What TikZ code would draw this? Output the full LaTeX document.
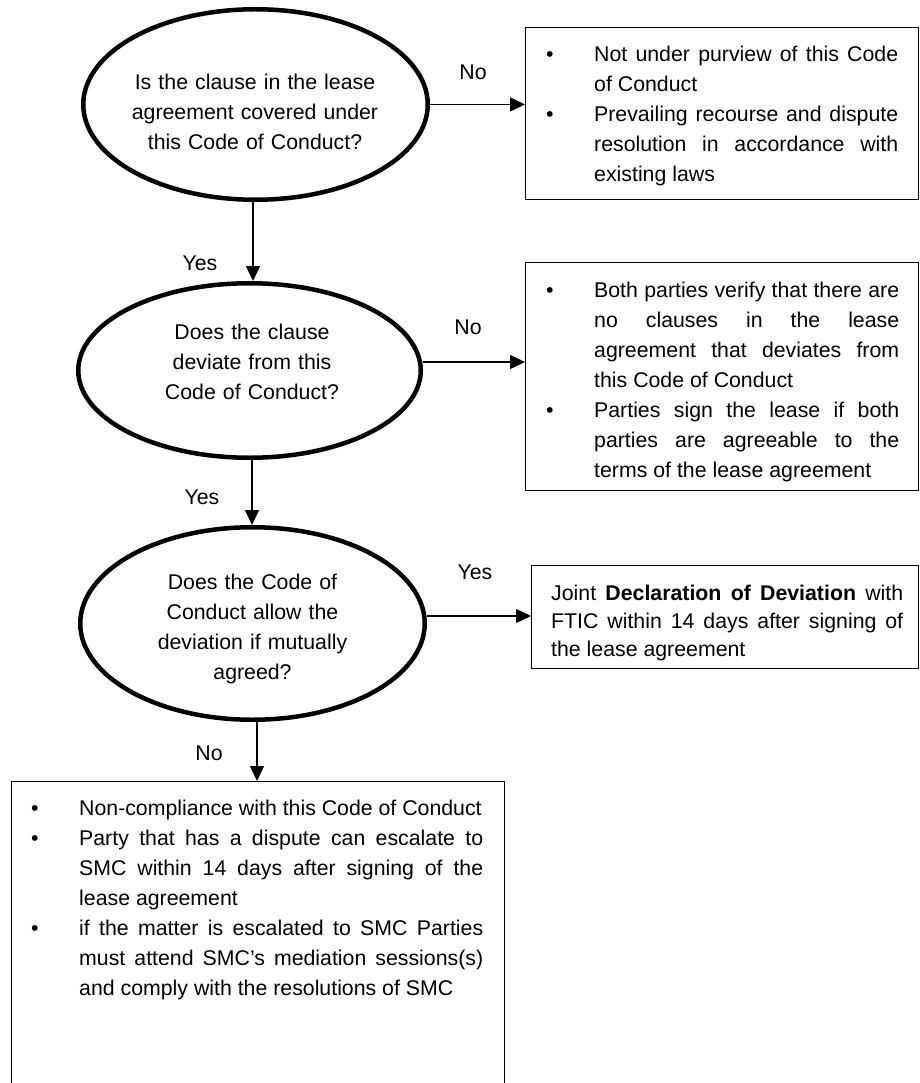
\documentclass[tikz,border=0pt]{standalone}
\usepackage{fontspec}
\setmainfont{Liberation Sans}
\usetikzlibrary{arrows.meta,shapes.geometric}
\tolerance=10000
\hbadness=10000
% bullet with hanging text (items are separated by \par)
\newcommand\bpt{\leftskip=48pt\noindent\llap{\makebox[48pt][l]{\textbullet}}}
\tikzset{
  decision/.style={draw,ellipse,line width=4.5pt,inner sep=0pt},
  outcome/.style={draw,rectangle,line width=1pt,inner sep=0pt,anchor=north west},
  btext/.style={anchor=base west,inner sep=0pt,align=justify},
  qtext/.style={anchor=base,inner sep=0pt,text width=320pt,align=center},
  arr/.style={-{Triangle[length=15pt,width=14pt]},line width=1.3pt},
  answer/.style={inner sep=0pt}
}
\begin{document}
\begin{tikzpicture}[x=1pt,y=-1pt,font=\fontsize{21.3}{30}\selectfont]
    \useasboundingbox[fill=white] (0,0) rectangle (919,1083);

    % the three questions
    \node[decision,minimum width=344.5pt,minimum height=190.5pt] (Q1) at (255.5,104.5) {};
    \node[decision,minimum width=342.5pt,minimum height=174.5pt] (Q2) at (249.5,370.5) {};
    \node[decision,minimum width=344.5pt,minimum height=192.5pt] (Q3) at (252.5,623.5) {};

    \node[qtext] (Q1t) at (255,90) {Is the clause in the lease\\agreement covered under\\this Code of Conduct?};
    \node[qtext] (Q2t) at (252,339) {Does the clause\\deviate from this\\Code of Conduct?};
    \node[qtext] (Q3t) at (252.5,589) {Does the Code of\\Conduct allow the\\deviation if mutually\\agreed?};

    % outcome boxes
    \node[outcome,minimum width=393pt,minimum height=172pt] (B1) at (525,27) {};
    \node[outcome,minimum width=393pt,minimum height=228pt] (B2) at (525,262) {};
    \node[outcome,minimum width=387pt,minimum height=103pt] (B3) at (531,565) {};
    \node[outcome,minimum width=493pt,minimum height=330pt] (B4) at (11,781) {};

    \node[btext,text width=352pt] (B1t) at (546,62)
      {\bpt Not under purview of this Code \linebreak of Conduct\par
       \bpt Prevailing recourse and dispute \linebreak resolution in accordance with \linebreak existing laws\par};
    \node[btext,text width=353pt] (B2t) at (546,297.5)
      {\bpt Both parties verify that there are \linebreak no clauses in the lease \linebreak agreement that deviates from \linebreak this Code of Conduct\par
       \bpt Parties sign the lease if both \linebreak parties are agreeable to the \linebreak terms of the lease agreement\par};
    \node[btext,text width=352pt,font=\fontsize{21.3}{28}\selectfont] (B3t) at (551,600.5)
      {Joint \textbf{Declaration of Deviation} with \linebreak FTIC within 14 days after signing of \linebreak the lease agreement};
    \node[btext,text width=452pt] (B4t) at (31,815)
      {\bpt Non-compliance with this Code of Conduct\par
       \bpt Party that has a dispute can escalate to \linebreak SMC within 14 days after signing of the \linebreak lease agreement\par
       \bpt if the matter is escalated to SMC Parties \linebreak must attend SMC’s mediation sessions(s) \linebreak and comply with the resolutions of SMC\par};

    % connectors
    \draw[arr] (Q1.east) -- (Q1.east -| B1.west);
    \draw[arr] ([xshift=-2.5pt]Q1.south) -- ([xshift=-2.5pt]Q1.south |- Q2.north);
    \draw[arr] ([yshift=8.5pt]Q2.east) -- ([yshift=8.5pt]Q2.east -| B2.west);
    \draw[arr] ([xshift=2.5pt]Q2.south) -- ([xshift=2.5pt]Q2.south |- Q3.north);
    \draw[arr] ([yshift=7.5pt]Q3.east) -- ([yshift=7.5pt]Q3.east -| B3.west);
    \draw[arr] ([xshift=4.5pt]Q3.south) -- ([xshift=4.5pt]Q3.south |- B4.north);

    % answers
    \node[answer] (n1) at (473,72) {No};
    \node[answer] (y1) at (200,263) {Yes};
    \node[answer] (n2) at (468,327) {No};
    \node[answer] (y2) at (202,497) {Yes};
    \node[answer] (y3) at (475,572) {Yes};
    \node[answer] (n3) at (209,753) {No};
\end{tikzpicture}
\end{document}
